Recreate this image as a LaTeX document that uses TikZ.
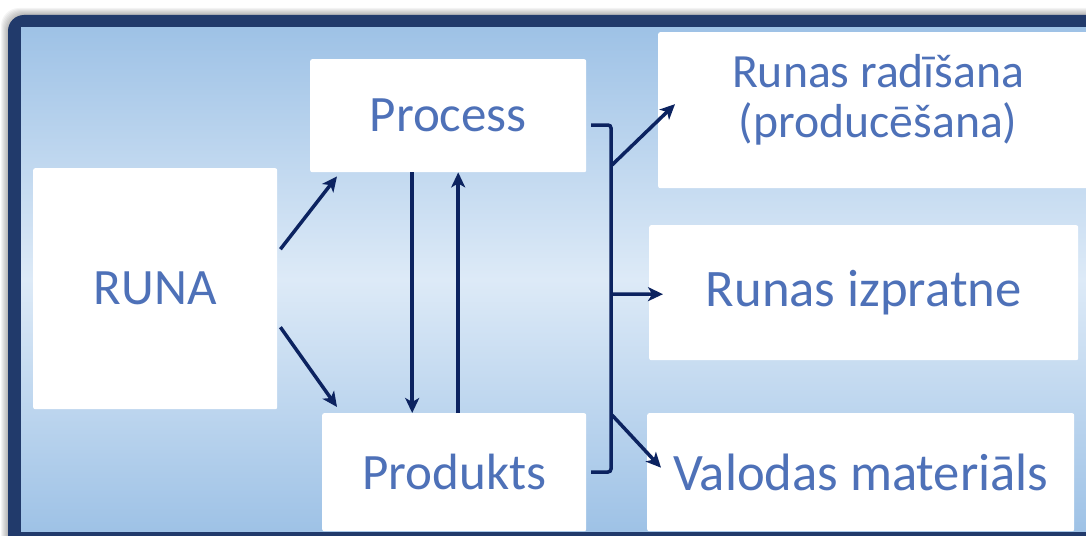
\documentclass[tikz,border=0pt]{standalone}
\usepackage{fontspec}
\setmainfont{Carlito}
\usetikzlibrary{arrows.meta,positioning,calc}

\definecolor{navy}{RGB}{33,58,107}
\definecolor{arrowblue}{RGB}{12,35,96}
\definecolor{txtblue}{RGB}{78,113,184}
\definecolor{bgdark}{RGB}{158,194,230}
\definecolor{bglight}{RGB}{221,234,247}

\newcommand{\fs}[1]{\fontsize{#1}{50}\selectfont}

\tikzset{
  box/.style={fill=white, rounded corners=2pt, anchor=north west, inner sep=0pt,
    text=txtblue, align=center, font=\fs{51}},
  link/.style={draw=arrowblue, line width=3.5pt,
    -{Stealth[length=15pt,width=14pt,inset=4pt]}}
}

\begin{document}
\begin{tikzpicture}[x=1pt,y=-1pt]
  \useasboundingbox (0,0) rectangle (1086,535);
  % frame with soft shadow
  \foreach \i in {1,...,7}
    \fill[black, opacity=0.045, rounded corners=18pt] (8-\i,15-\i) rectangle (1120,560);
  \fill[navy, rounded corners=16pt] (8,15) rectangle (1120,560);
  \shade[top color=bgdark, bottom color=bgdark, middle color=bglight]
    (21,28) rectangle (1120,531);

  % boxes
  \node[box, minimum width=244pt, minimum height=241pt] (runa) at (33,168) {RUNA};
  \node[box, minimum width=276pt, minimum height=113pt] (proc) at (310,59) {Process};
  \node[box, minimum width=264pt, minimum height=118pt] (prod) at (322,413) {Produkts};
  \node[box, minimum width=440pt, minimum height=156pt, font=\fs{47.7}, text depth=28pt]
    (rad) at (658,32) {Runas radīšana\\(producēšana)};
  \node[box, minimum width=429pt, minimum height=135pt, font=\fs{52.7}] (izpr) at (649,225)
    {Runas izpratne};
  \node[box, minimum width=427pt, minimum height=118pt, font=\fs{52.6}] (val) at (647,413)
    {Valodas materiāls};

  % arrows between the left boxes
  \draw[link] ($(runa.east)+(3,-39.5)$) -- ($(proc.south west)+(27,4)$);
  \draw[link] ($(runa.east)+(3,38.5)$) -- ($(prod.north west)+(15,-6)$);
  \draw[link] ([xshift=-36pt]proc.south) -- ([xshift=-36pt]proc.south |- prod.north);
  \draw[link] ([xshift=4pt]prod.north) -- ([xshift=4pt]prod.north |- proc.south);

  % bracket
  \coordinate (bt) at (591,125);
  \coordinate (bb) at (591,472);
  \draw[arrowblue, line width=3.5pt, rounded corners=3pt]
    (bt) -- ++(20,0) -- ($(bb)+(20,0)$) -- (bb);
  \coordinate (b1) at (612,165);
  \coordinate (b2) at (612,294);
  \coordinate (b3) at (612,415);
  \draw[link] (b1) -- ($(rad.west)+(17,-6)$);
  \draw[link] (b2) -- ($(izpr.west)+(14,1.5)$);
  \draw[link] (b3) -- ($(val.west)+(14,-4.5)$);
\end{tikzpicture}
\end{document}
